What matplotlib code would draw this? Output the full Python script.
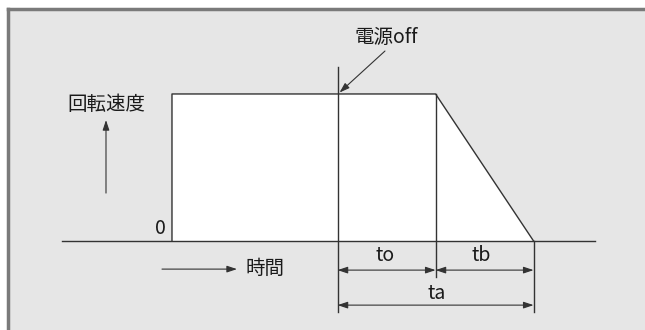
import matplotlib
matplotlib.use("Agg")
import matplotlib.pyplot as plt
from matplotlib.patches import Polygon, Rectangle

plt.rcParams['font.family'] = ['Noto Sans CJK JP', 'DejaVu Sans']

# time points (arbitrary units) and speed levels
t_start = 0.0
t_off = 1.69
t_decel = 2.69
t_stop = 3.69
speed_full = 1.0
speed_zero = 0.0

# labels
label_speed = '回転速度'
label_time = '時間'
label_off = '電源off'
label_to = 'to'
label_tb = 'tb'
label_ta = 'ta'
label_zero = '0'

line_col = '#333333'
txt_col = '#1a1a1a'
bg_col = '#e6e6e6'

fig = plt.figure(figsize=(6.45, 3.3), dpi=100)
fig.patch.set_facecolor('white')
ax = fig.add_axes([0, 0, 1, 1])
ax.set_xlim(-1.755, 4.827)
ax.set_ylim(-0.605, 1.639)
ax.axis('off')

# helpers to place layout items by pixel position
px = 98.0   # pixels per time unit
py = 147.0  # pixels per speed unit
def X(p):
    return -1.755 + p / px
def Y(p):
    return 1.639 - p / py

# gray panel, darker border on top and left
ax.add_patch(Rectangle((X(8), Y(340)), X(700) - X(8), Y(9) - Y(340),
                       facecolor=bg_col, edgecolor='none', zorder=0))
ax.plot([X(8), X(8)], [Y(9), Y(340)], color='#7a7a7a', lw=2.5, zorder=1)
ax.plot([X(8), X(700)], [Y(9), Y(9)], color='#7a7a7a', lw=2.5, zorder=1)

# speed profile (white area)
prof_x = [t_start, t_start, t_decel, t_stop]
prof_y = [speed_zero, speed_full, speed_full, speed_zero]
ax.add_patch(Polygon(list(zip(prof_x, prof_y)), closed=True,
                     facecolor='white', edgecolor='none', zorder=2))
ax.plot(prof_x, prof_y, color=line_col, lw=1.0, zorder=3)

# baseline
ax.plot([X(62), X(595)], [speed_zero, speed_zero], color=line_col, lw=1.0, zorder=3)

# power-off vertical line, decel start line, stop line
ax.plot([t_off, t_off], [Y(67), Y(312)], color=line_col, lw=1.0, zorder=3)
ax.plot([t_decel, t_decel], [speed_full, Y(277)], color=line_col, lw=1.0, zorder=3)
ax.plot([t_stop, t_stop], [speed_zero, Y(312)], color=line_col, lw=1.0, zorder=3)

arrow = dict(arrowstyle='<|-|>,head_length=0.6,head_width=0.2', color=line_col, lw=0.8,
             mutation_scale=10, shrinkA=0, shrinkB=0)
single = dict(arrowstyle='-|>,head_length=0.6,head_width=0.2', color=line_col, lw=0.8,
              mutation_scale=10, shrinkA=0, shrinkB=0)
y_row1 = Y(270)
y_row2 = Y(305)
ax.annotate('', xy=(t_decel, y_row1), xytext=(t_off, y_row1), arrowprops=arrow)
ax.annotate('', xy=(t_stop, y_row1), xytext=(t_decel, y_row1), arrowprops=arrow)
ax.annotate('', xy=(t_stop, y_row2), xytext=(t_off, y_row2), arrowprops=arrow)

fs = 14
ax.text(X(385), Y(255), label_to, fontsize=fs, ha='center', va='center', color=txt_col)
ax.text(X(481), Y(255), label_tb, fontsize=fs, ha='center', va='center', color=txt_col)
ax.text(X(437), Y(293), label_ta, fontsize=fs, ha='center', va='center', color=txt_col)
ax.text(X(160), Y(228), label_zero, fontsize=fs, ha='center', va='center', color=txt_col)

# speed label + up arrow
ax.text(X(106), Y(104), label_speed, fontsize=fs, ha='center', va='center', color=txt_col)
ax.annotate('', xy=(X(106), Y(120)), xytext=(X(106), Y(193)), arrowprops=single)

# time label + right arrow
ax.annotate('', xy=(X(237), Y(269)), xytext=(X(162), Y(269)), arrowprops=single)
ax.text(X(246), Y(268), label_time, fontsize=fs, ha='left', va='center', color=txt_col)

# power off callout
ax.text(X(386), Y(37), label_off, fontsize=fs, ha='center', va='center', color=txt_col)
ax.annotate('', xy=(t_off + 0.02, speed_full + 0.01), xytext=(X(385), Y(51)),
            arrowprops=single)

fig.savefig('out.png', dpi=100, facecolor=fig.get_facecolor())
